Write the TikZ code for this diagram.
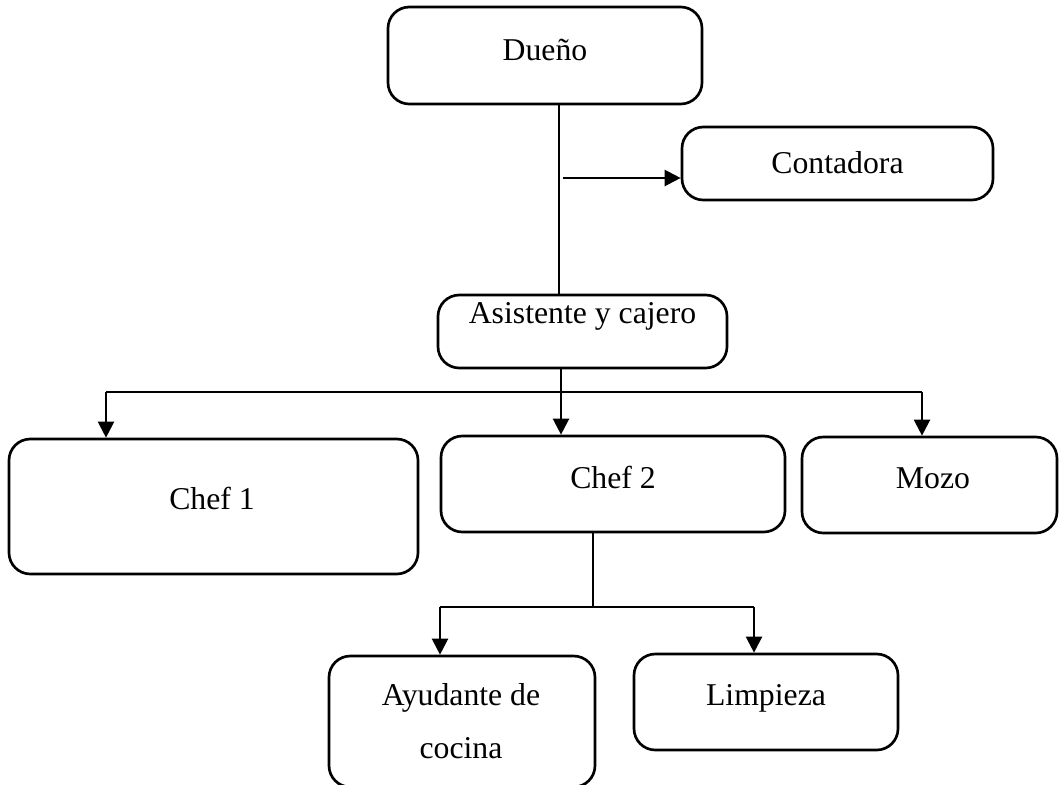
\documentclass[tikz,border=0pt]{standalone}
\usepackage{fontspec}
\setmainfont{Liberation Serif}
\usetikzlibrary{arrows.meta}
\begin{document}
\begin{tikzpicture}[x=0.75pt,y=-0.75pt,
  box/.style={draw=black, line width=2pt, rounded corners=16pt, inner sep=0pt, fill=white},
  txt/.style={inner sep=0pt, anchor=base, font=\fontsize{23.8}{30}\selectfont},
  thinl/.style={draw=black, line width=0.8pt},
  arr/.style={draw=black, line width=1.7pt, -{Triangle[length=12pt,width=12pt]}}]
\useasboundingbox (0,0) rectangle (1060,785);
\clip (0,0) rectangle (1060,785);
% boxes
\node[box, minimum width=235.5pt, minimum height=72.75pt] (duenio) at (545,55.5) {};
\node[box, minimum width=233.25pt, minimum height=54.75pt] (conta) at (837.5,163.5) {};
\node[box, minimum width=216.75pt, minimum height=54.75pt] (asist) at (582.5,331.5) {};
\node[box, minimum width=306.75pt, minimum height=101.25pt] (chef1) at (213.5,506.5) {};
\node[box, minimum width=258pt, minimum height=72pt] (chef2) at (613,484) {};
\node[box, minimum width=191.25pt, minimum height=72pt] (mozo) at (929.5,485) {};
\node[box, minimum width=199.5pt, minimum height=98.25pt] (ayud) at (462,721.5) {};
\node[box, minimum width=198pt, minimum height=72pt] (limp) at (766,702) {};
% texts
\node[txt] (tduenio) at (545,60) {Dueño};
\node[txt] (tconta) at (837.5,173) {Contadora};
\node[txt] (tasist) at (582.5,323) {Asistente y cajero};
\node[txt] (tchef1) at (212,509) {Chef 1};
\node[txt] (tchef2) at (613,488) {Chef 2};
\node[txt] (tmozo) at (933,488) {Mozo};
\node[txt] (tayud1) at (461,705) {Ayudante de};
\node[txt] (tayud2) at (461,758) {cocina};
\node[txt] (tlimp) at (766,705) {Limpieza};
% connectors
\coordinate (d1) at (559,104);
\draw[thinl] (d1) -- (d1 |- asist.north);
\coordinate (cA) at (563,178);
\draw[arr] (cA) -- (cA -| conta.west);
\coordinate (bus) at (561,392);
\coordinate (b1) at (106,392);
\coordinate (b3) at (922,392);
\draw[thinl] (bus |- asist.south) -- (bus);
\draw[thinl] (b1) -- (b3);
\draw[arr] (b1) -- (b1 |- chef1.north);
\draw[arr] (bus) -- (bus |- chef2.north);
\draw[arr] (b3) -- (b3 |- mozo.north);
\coordinate (c0) at (593,607);
\coordinate (c1) at (440,607);
\coordinate (c2) at (754,607);
\draw[thinl] (c0 |- chef2.south) -- (c0);
\draw[thinl] (c1) -- (c2);
\draw[arr] (c1) -- (c1 |- ayud.north);
\draw[arr] (c2) -- (c2 |- limp.north);
\end{tikzpicture}
\end{document}
